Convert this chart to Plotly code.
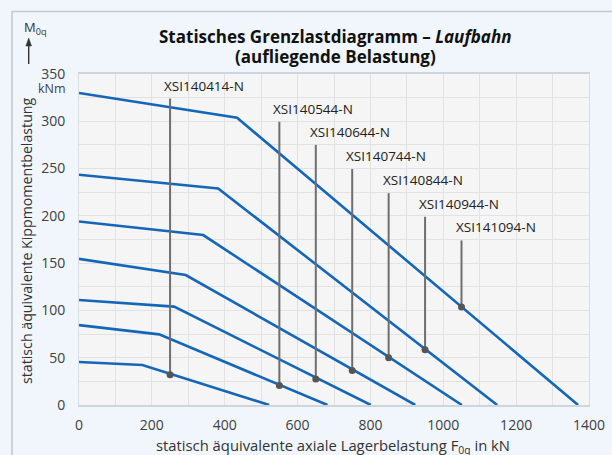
import plotly.graph_objects as go

# ---------------- data ----------------
# curves: x (kN) and y (kNm) break points, from bottom to top
curve_x = [
    [0, 174, 522],
    [0, 220, 682],
    [0, 261, 801],
    [0, 293, 923],
    [0, 341, 1051],
    [0, 382, 1148],
    [0, 434, 1370],
]
curve_y = [
    [45.5, 42.3, 0],
    [84.5, 74.7, 0],
    [111, 104, 0],
    [154.5, 137.4, 0],
    [194, 179.7, 0],
    [243.5, 229, 0],
    [330, 303.7, 0],
]

models = ["XSI140414-N", "XSI140544-N", "XSI140644-N", "XSI140744-N",
          "XSI140844-N", "XSI140944-N", "XSI141094-N"]
label_x = [250, 550, 650, 750, 850, 950, 1050]
dot_y = [32, 20.5, 27.5, 36.5, 50, 58.5, 103.5]
top_y = [324, 299.5, 275, 249.5, 224, 199, 174]

x_ticks = [0, 200, 400, 600, 800, 1000, 1200, 1400]
y_ticks = [0, 50, 100, 150, 200, 250, 300, 350]

# ---------------- layout geometry ----------------
W, H = 612, 455
L, R, T, B = 79, 589, 74, 405  # plot area in pixels


def px(xp):
    return (xp - L) / (R - L)


def py(yp):
    return (B - yp) / (B - T)


FONT = "Open Sans"
BLUE = "#1467B8"
GREY = "#6E6E6E"

fig = go.Figure()

for cx, cy in zip(curve_x, curve_y):
    fig.add_trace(go.Scatter(x=cx, y=cy, mode="lines",
                             line=dict(color=BLUE, width=2.6),
                             hoverinfo="skip", showlegend=False))

for name, lx, dy, ty in zip(models, label_x, dot_y, top_y):
    fig.add_trace(go.Scatter(x=[lx, lx], y=[dy, ty], mode="lines",
                             line=dict(color=GREY, width=2),
                             hoverinfo="skip", showlegend=False))
    fig.add_trace(go.Scatter(x=[lx], y=[dy], mode="markers",
                             marker=dict(color="#555555", size=7),
                             hoverinfo="skip", showlegend=False))
    fig.add_annotation(x=lx, y=ty, text=name, showarrow=False,
                       xanchor="left", yanchor="middle", xshift=-8, yshift=13,
                       font=dict(family=FONT, size=13.5, color="#222222"))

annotations = [
    dict(x=px(335), y=py(36), text="<b>Statisches Grenzlastdiagramm – <i>Laufbahn</i></b>",
         font=dict(family=FONT, size=17, color="#111111")),
    dict(x=px(335), y=py(56), text="<b>(aufliegende Belastung)</b>",
         font=dict(family=FONT, size=17, color="#111111")),
    dict(x=px(333), y=py(446),
         text="statisch äquivalente axiale Lagerbelastung F<sub>0q</sub> in kN",
         font=dict(family=FONT, size=14.8, color="#333333")),
    dict(x=px(26), y=py(241), text="statisch äquivalente Kippmomentbelastung",
         textangle=-90, font=dict(family=FONT, size=14.2, color="#333333")),
    dict(x=px(68), y=py(89), text="kNm", xanchor="right",
         font=dict(family=FONT, size=12.5, color="#444444")),
    dict(x=px(22), y=py(28), text="M<sub>0q</sub>", xanchor="left",
         font=dict(family=FONT, size=13, color="#333333")),
]
for a in annotations:
    a.setdefault("xanchor", "center")
    fig.add_annotation(xref="paper", yref="paper", showarrow=False,
                       yanchor="middle", **a)

# upward arrow under M0q (line + triangular head), pixel-sized relative to the paper
fig.add_shape(type="line", xref="paper", yref="paper",
              x0=px(28.7), x1=px(28.7), y0=py(64), y1=py(44),
              line=dict(color="#333333", width=1.4))
fig.add_shape(type="path", xref="paper", yref="paper",
              path=f"M {px(28.7)} {py(38)} L {px(25.9)} {py(46)} L {px(31.5)} {py(46)} Z",
              line=dict(color="#333333", width=0.5), fillcolor="#333333")

# outer frame
fig.add_shape(type="rect", xref="paper", yref="paper",
              x0=px(12), x1=px(640), y0=py(480), y1=py(11.5),
              line=dict(color="#C4C8CC", width=1.5), fillcolor="rgba(0,0,0,0)",
              layer="below")

fig.update_layout(
    width=W, height=H,
    margin=dict(l=L, r=W - R, t=T, b=H - B, pad=0, autoexpand=False),
    paper_bgcolor="#F0F6FC",
    plot_bgcolor="#F5F5F5",
    font=dict(family=FONT, size=14, color="#404040"),
    xaxis=dict(range=[0, 1400], tickvals=x_ticks, ticks="outside", ticklen=6,
               tickcolor="rgba(0,0,0,0)", automargin=False,
               showgrid=True, gridcolor="#E2E2E2", gridwidth=1,
               minor=dict(dtick=100, showgrid=True, gridcolor="#E2E2E2", gridwidth=1),
               showline=True, linecolor="#CDD5DD", linewidth=1.5, mirror=True,
               zeroline=False, tickfont=dict(family=FONT, size=14, color="#404040"),
               fixedrange=True),
    yaxis=dict(range=[0, 350], tickvals=y_ticks, ticks="outside", ticklen=10,
               tickcolor="rgba(0,0,0,0)", automargin=False,
               showgrid=True, gridcolor="#E2E2E2", gridwidth=1,
               minor=dict(dtick=25, showgrid=True, gridcolor="#E2E2E2", gridwidth=1),
               showline=True, linecolor="#DADDE0", linewidth=1, mirror=True,
               zeroline=False, tickfont=dict(family=FONT, size=14, color="#404040"),
               fixedrange=True),
    showlegend=False,
)

fig.write_html(
    "out.html",
    config={"displayModeBar": False},
    post_script="document.body.style.margin='0';document.body.style.background='#F0F6FC';",
)
